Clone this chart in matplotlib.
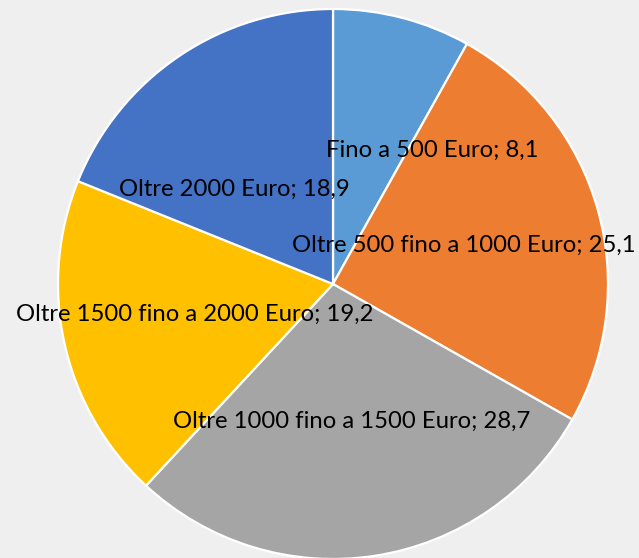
import matplotlib
matplotlib.use("Agg")
import matplotlib.pyplot as plt

categories = ["Fino a 500 Euro", "Oltre 500 fino a 1000 Euro", "Oltre 1000 fino a 1500 Euro",
              "Oltre 1500 fino a 2000 Euro", "Oltre 2000 Euro"]
values = [8.1, 25.1, 28.7, 19.2, 18.9]
value_labels = ["8,1", "25,1", "28,7", "19,2", "18,9"]
colors = ["#5B9BD5", "#ED7D31", "#A5A5A5", "#FFC000", "#4472C4"]

# label centre positions in pixel coords (x from left, y from top)
label_pos = [(432, 150), (464, 245), (352, 421), (195, 314), (234, 189)]

W, H = 639, 558
fig = plt.figure(figsize=(W / 100, H / 100), dpi=100)
fig.patch.set_facecolor("#EFEFEF")
ax = fig.add_axes([0, 0, 1, 1])
ax.set_facecolor("#EFEFEF")
ax.pie(values, colors=colors, startangle=90, counterclock=False,
       center=(333, H - 284), radius=275,
       wedgeprops=dict(edgecolor="white", linewidth=1.6))
ax.set_xlim(0, W)
ax.set_ylim(0, H)
ax.set_aspect("equal")
ax.axis("off")

for cat, vl, (x, y) in zip(categories, value_labels, label_pos):
    ax.text(x, H - y, f"{cat}; {vl}", ha="center", va="center",
            fontsize=17.2, family=["Lato", "DejaVu Sans"], color="black")

fig.savefig("out.png", dpi=100, facecolor=fig.get_facecolor())
